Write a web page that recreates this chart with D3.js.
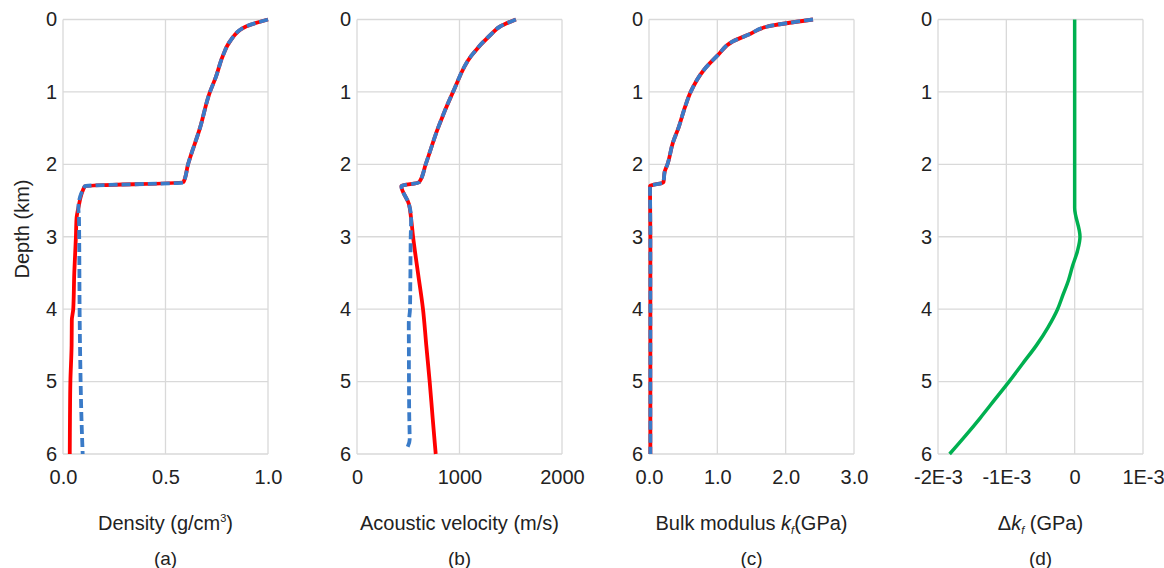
<!DOCTYPE html>
<html>
<head>
<meta charset="utf-8">
<script src="https://cdn.jsdelivr.net/npm/d3@7"></script>
<style>
  html, body { margin: 0; padding: 0; background: #fff; }
  svg { display: block; font-family: "Liberation Sans", Arial, sans-serif; }
</style>
</head>
<body>
<svg id="chart" width="1164" height="568"></svg>
<script>
// ---------------- data ----------------
const depthTicks = [0, 1, 2, 3, 4, 5, 6];

// (a) density
const densDepthTop = [0, 0.1, 0.3, 0.5, 0.8, 1.0, 1.5, 2.0, 2.25, 2.3, 2.6];
const densTop      = [1.0, 0.89, 0.815, 0.78, 0.745, 0.717, 0.668, 0.61, 0.587, 0.107, 0.075];
const densDepthRed = [2.75, 3.0, 3.5, 4.0, 4.15, 4.5, 5.0, 5.5, 6.0];
const densRedLow   = [0.066, 0.063, 0.055, 0.05, 0.043, 0.042, 0.036, 0.034, 0.033];
const densDepthBlue= [2.75, 3.0, 3.5, 4.0, 4.5, 5.0, 5.5, 6.0];
const densBlueLow  = [0.078, 0.079, 0.08, 0.081, 0.083, 0.086, 0.09, 0.096];
const densTicks    = [0, 0.5, 1.0];
const densTickLabels = ["0.0", "0.5", "1.0"];

// (b) acoustic velocity
const velDepthTop  = [0, 0.1, 0.2, 0.5, 1.0, 1.5, 2.0, 2.25, 2.3, 2.55, 2.75];
const velTop       = [1550, 1392, 1311, 1116, 937, 790, 670, 605, 433, 507, 528];
const velDepthRed  = [3.0, 3.5, 4.0, 4.5, 5.0, 5.5, 6.0];
const velRedLow    = [547, 595, 644, 676, 709, 738, 768];
const velDepthBlue = [3.0, 3.5, 4.0, 4.2, 4.5, 5.0, 5.5, 5.8, 5.92];
const velBlueLow   = [524, 521, 517, 505, 506, 507, 510, 514, 489];
const velTicks     = [0, 1000, 2000];
const velTickLabels = ["0", "1000", "2000"];

// (c) bulk modulus
const bulkDepth = [0, 0.1, 0.2, 0.3, 0.5, 0.7, 1.0, 1.2, 1.5, 1.7, 2.0, 2.1, 2.25, 2.3, 3, 4, 5, 6];
const bulkVal   = [2.40, 1.72, 1.48, 1.23, 1.0, 0.80, 0.61, 0.53, 0.43, 0.35, 0.27, 0.23, 0.21, 0.015, 0.02, 0.02, 0.02, 0.02];
const bulkTicks = [0, 1, 2, 3];
const bulkTickLabels = ["0.0", "1.0", "2.0", "3.0"];

// (d) delta bulk modulus
const dkDepth = [0, 1, 2, 2.6, 3.0, 3.2, 3.4, 3.6, 3.8, 4.0, 4.25, 4.5, 4.75, 5.0, 5.25, 5.5, 5.75, 6.0];
const dkVal   = [0, 0, 0, 0, 0.078e-3, 0.04e-3, -0.03e-3, -0.09e-3, -0.17e-3, -0.25e-3, -0.39e-3, -0.56e-3, -0.76e-3, -0.96e-3, -1.17e-3, -1.38e-3, -1.6e-3, -1.83e-3];
const dkTicks = [-2e-3, -1e-3, 0, 1e-3];
const dkTickLabels = ["-2E-3", "-1E-3", "0", "1E-3"];

// ---------------- layout ----------------
const svg = d3.select("#chart");
const plotTop = 19.5, plotBottom = 454, pw = 205;
const RED = "#ff0000", BLUE = "#3a7bc8", GREEN = "#00b050", GRID = "#d9d9d9";
const FONT = "Liberation Sans, Arial, sans-serif";

const y = d3.scaleLinear().domain([0, 6]).range([plotTop, plotBottom]);

function zip(d, v) { return d.map((dd, i) => ({ d: dd, v: v[i] })); }

function panel(opts) {
  const x = d3.scaleLinear().domain(opts.domain).range([opts.left, opts.left + pw]);
  const g = svg.append("g");

  // vertical grid
  g.selectAll(".vg").data(opts.ticks).enter().append("line")
    .attr("x1", d => x(d)).attr("x2", d => x(d))
    .attr("y1", plotTop).attr("y2", plotBottom)
    .attr("stroke", GRID).attr("stroke-width", 1.3);
  // horizontal grid
  g.selectAll(".hg").data(depthTicks).enter().append("line")
    .attr("x1", opts.left).attr("x2", opts.left + pw)
    .attr("y1", d => y(d)).attr("y2", d => y(d))
    .attr("stroke", GRID).attr("stroke-width", 1.3);

  // y axis labels
  const ya = d3.axisLeft(y).tickValues(depthTicks).tickSize(0).tickPadding(6).tickFormat(d3.format("d"));
  const yg = g.append("g").attr("transform", `translate(${opts.left},0)`).call(ya);
  yg.select(".domain").remove();
  yg.selectAll("text").attr("font-size", 20).attr("fill", "#222").attr("font-family", FONT);

  // x axis labels
  const xa = d3.axisBottom(x).tickValues(opts.ticks).tickSize(0).tickPadding(16)
    .tickFormat((d, i) => opts.tickLabels[i]);
  const xg = g.append("g").attr("transform", `translate(0,${plotBottom})`).call(xa);
  xg.select(".domain").remove();
  xg.selectAll("text").attr("font-size", 20).attr("fill", "#222").attr("font-family", FONT);

  const line = d3.line().x(p => x(p.v)).y(p => y(p.d)).curve(d3.curveMonotoneY);
  opts.series.forEach(s => {
    g.append("path").datum(s.data)
      .attr("d", line)
      .attr("fill", "none")
      .attr("stroke", s.color)
      .attr("stroke-width", s.width || 3.8)
      .attr("stroke-dasharray", s.dash || null)
      .attr("stroke-linejoin", "round");
  });

  // axis title
  const cx = opts.left + pw / 2;
  const t = g.append("text").attr("x", cx).attr("y", 530)
    .attr("text-anchor", "middle").attr("font-size", 20).attr("fill", "#222");
  opts.title(t);
  g.append("text").attr("x", cx).attr("y", 565)
    .attr("text-anchor", "middle").attr("font-size", 19).attr("fill", "#222")
    .text(opts.sub);
  return x;
}

// (a)
panel({
  left: 63, domain: [0, 1], ticks: densTicks, tickLabels: densTickLabels, sub: "(a)",
  series: [
    { data: zip(densDepthTop.concat(densDepthRed), densTop.concat(densRedLow)), color: RED },
    { data: zip(densDepthTop.concat(densDepthBlue), densTop.concat(densBlueLow)), color: BLUE, dash: "9,4" }
  ],
  title: t => {
    t.append("tspan").text("Density (g/cm");
    t.append("tspan").attr("font-size", 11).attr("dy", -8).text("3");
    t.append("tspan").attr("dy", 8).text(")");
  }
});

// (b)
panel({
  left: 357, domain: [0, 2000], ticks: velTicks, tickLabels: velTickLabels, sub: "(b)",
  series: [
    { data: zip(velDepthTop.concat(velDepthRed), velTop.concat(velRedLow)), color: RED },
    { data: zip(velDepthTop.concat(velDepthBlue), velTop.concat(velBlueLow)), color: BLUE, dash: "9,4" }
  ],
  title: t => t.text("Acoustic velocity (m/s)")
});

// (c)
panel({
  left: 649, domain: [0, 3], ticks: bulkTicks, tickLabels: bulkTickLabels, sub: "(c)",
  series: [
    { data: zip(bulkDepth, bulkVal), color: RED },
    { data: zip(bulkDepth, bulkVal), color: BLUE, dash: "9,4" }
  ],
  title: t => {
    t.append("tspan").text("Bulk modulus ");
    t.append("tspan").attr("font-style", "italic").text("k");
    t.append("tspan").attr("font-size", 11).attr("font-style", "italic").attr("dy", 4).text("f");
    t.append("tspan").attr("dy", -4).text("(GPa)");
  }
});

// (d)
panel({
  left: 938, domain: [-2e-3, 1e-3], ticks: dkTicks, tickLabels: dkTickLabels, sub: "(d)",
  series: [
    { data: zip(dkDepth, dkVal), color: GREEN, width: 3.5 }
  ],
  title: t => {
    t.append("tspan").text("Δ");
    t.append("tspan").attr("font-style", "italic").text("k");
    t.append("tspan").attr("font-size", 11).attr("font-style", "italic").attr("dy", 4).text("f");
    t.append("tspan").attr("dy", -4).text(" (GPa)");
  }
});

// y axis title
svg.append("text")
  .attr("transform", "translate(29,229) rotate(-90)")
  .attr("text-anchor", "middle").attr("font-size", 20).attr("fill", "#222")
  .text("Depth (km)");
</script>
</body>
</html>
